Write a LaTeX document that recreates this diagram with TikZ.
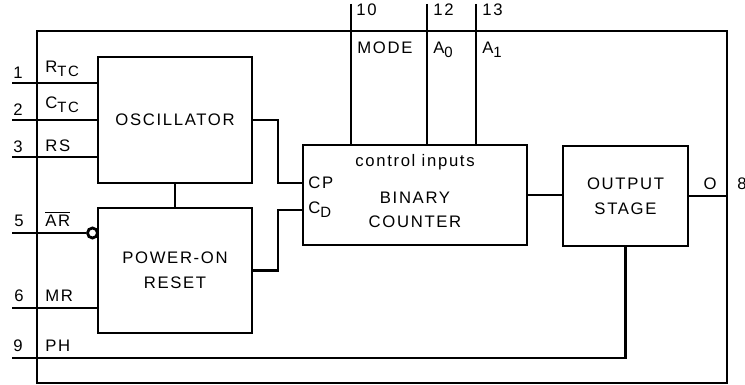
\documentclass[tikz,border=0pt]{standalone}
\usepackage{fontspec}
\newfontfamily\chipfont{Liberation Sans}[LetterSpace=10]
\usetikzlibrary{positioning,calc}
\newcommand\pinsub[1]{\raisebox{-0.45ex}{\fontsize{8.5}{9}\selectfont #1}}

\begin{document}
\begin{tikzpicture}[x=0.02cm, y=-0.02cm,
  block/.style={draw, line width=1.6pt, inner sep=0pt, align=center},
  wire/.style={line width=1.2pt},
  pinnum/.style={inner sep=0pt},
  pinname/.style={inner sep=0pt, anchor=west},
  font=\chipfont\fontsize{9.5}{11}\selectfont
]
\useasboundingbox (0,0) rectangle (745,385);

% Package outline
\draw[wire] (37,31) rectangle (727,383);

% Blocks
\node[block, minimum width=3.08cm, minimum height=2.52cm] (osc) at (175,120) {OSCILLATOR};
\node[block, minimum width=3.08cm, minimum height=2.5cm] (por) at (175,270.5) {POWER-ON\\[3pt]RESET};
\node[block, minimum width=4.48cm, minimum height=2cm] (cnt) at (415,195) {};
\node (cntc) at (415,162) {control inputs};
\node[align=center] (cntt) at (415,210) {BINARY\\[3pt]COUNTER};
\node[block, minimum width=2.5cm, minimum height=2cm] (out) at (625.5,196) {OUTPUT\\[3pt]STAGE};
\node[draw, circle, line width=1.6pt, inner sep=0pt, minimum size=0.2cm] (bub) at (92.5,233) {};

% Pin ends
\coordinate (p1) at (12,83);
\coordinate (p2) at (12,120);
\coordinate (p3) at (12,157);
\coordinate (p5) at (12,233);
\coordinate (p6) at (12,308);
\coordinate (p9) at (12,358);
\coordinate (p10) at (351,4);
\coordinate (p12) at (427,4);
\coordinate (p13) at (476,4);
\coordinate (p8) at (727,196);
\coordinate (cp) at (303,183);
\coordinate (cd) at (303,210);

% Wires
\foreach \p in {p1,p2,p3}
  \draw[wire] (\p) -- (\p -| osc.west);
\draw[wire] (p5) -- (bub.west);
\draw[wire] (p6) -- (p6 -| por.west);
\draw[wire] (p9) -| (out.south);
\foreach \p in {p10,p12,p13}
  \draw[wire] (\p) -- (\p |- cnt.north);
\draw[wire] (osc.south) -- (por.north);
\draw[wire] (osc.east) -- ++(25,0) |- (cp);
\draw[wire] (por.east) -- ++(25,0) |- (cd);
\draw[wire] (cnt.east) -- (cnt.east -| out.west);
\draw[wire] (out.east) -- (p8);

% Pin numbers
\node[pinnum] (n1) at (18,73) {1};
\node[pinnum] (n2) at (18,110) {2};
\node[pinnum] (n3) at (18,147) {3};
\node[pinnum] (n5) at (19,221) {5};
\node[pinnum] (n6) at (19,296) {6};
\node[pinnum] (n9) at (18,346) {9};
\node[pinname] (n10) at (356,10) {10};
\node[pinname] (n12) at (433,10) {12};
\node[pinname] (n13) at (482,10) {13};
\node[pinnum] (n8) at (742,184) {8};

% Pin names
\node[pinname] (l1) at (45,69) {R\pinsub{TC}};
\node[pinname] (l2) at (45,105) {C\pinsub{TC}};
\node[pinname] (l3) at (45,146) {RS};
\node[pinname] (l5) at (45,219) {$\overline{\mbox{AR}}$};
\node[pinname] (l6) at (45,296) {MR};
\node[pinname] (l9) at (45,346) {PH};
\node[pinname] (l10) at (357,48) {MODE};
\node[pinname] (l12) at (433,50) {A\pinsub{0}};
\node[pinname] (l13) at (482,50) {A\pinsub{1}};
\node[pinname] (lcp) at (308,183) {CP};
\node[pinname] (lcd) at (308,210) {C\pinsub{D}};
\node[pinnum] (l8) at (710,184) {O};

\end{tikzpicture}
\end{document}
